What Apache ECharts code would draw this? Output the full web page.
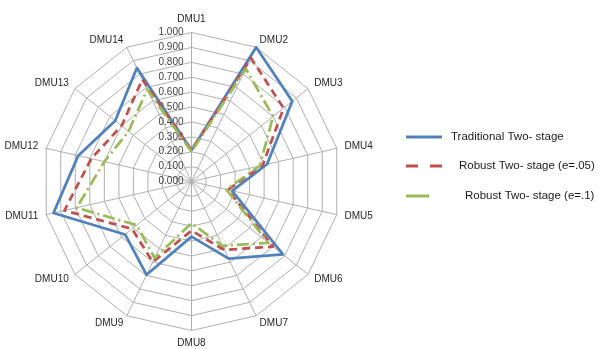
<!DOCTYPE html>
<html>
<head>
<meta charset="utf-8">
<script src="https://cdn.jsdelivr.net/npm/echarts@6/dist/echarts.min.js"></script>
<style>
  html, body { margin: 0; padding: 0; background: #fff; }
  #chart { width: 598px; height: 349px; }
</style>
</head>
<body>
<div id="chart"></div>
<script>
// Efficiency scores of 14 decision-making units under three models
const dmus = ['DMU1', 'DMU2', 'DMU3', 'DMU4', 'DMU5', 'DMU6', 'DMU7',
              'DMU8', 'DMU9', 'DMU10', 'DMU11', 'DMU12', 'DMU13', 'DMU14'];
const seriesNames = ['Traditional Two- stage', 'Robust Two- stage (e=.05)', 'Robust Two- stage (e=.1)'];
const traditional = [0.21, 1.00, 0.865, 0.52, 0.28, 0.785, 0.575, 0.37, 0.695, 0.57, 0.95, 0.78, 0.655, 0.845];
const robust05    = [0.21, 0.92, 0.79, 0.49, 0.25, 0.70, 0.51, 0.33, 0.60, 0.51, 0.875, 0.69, 0.60, 0.76];
const robust10    = [0.20, 0.84, 0.70, 0.47, 0.24, 0.66, 0.48, 0.28, 0.57, 0.47, 0.79, 0.60, 0.54, 0.685];
const axisMin = 0, axisMax = 1, axisSplits = 10;

const colors = ['#4F81BD', '#C0504D', '#9BBB59'];
const lineTypes = ['solid', [8, 5], [12, 4, 2, 4]];
const values = [traditional, robust05, robust10];

// radar axes run counter-clockwise; lay DMUs out clockwise from the top
const order = dmus.map((_, i) => (dmus.length - i) % dmus.length);

const font = 'Liberation Sans, Arial, sans-serif';
const chart = echarts.init(document.getElementById('chart'), null, { renderer: 'canvas' });

const indicator = order.map((k, i) => {
  const ind = { name: dmus[k], min: axisMin, max: axisMax };
  if (i === 0) {
    // only the vertical axis carries the scale labels
    ind.axisLabel = {
      show: true,
      margin: 8,
      fontSize: 10,
      color: '#404040',
      fontFamily: font,
      formatter: v => v.toFixed(3)
    };
  }
  return ind;
});

const legendIcons = [
  'path://M0,0H36V3H0Z',
  'path://M0,0H12V3H0ZM24,0H36V3H24Z',
  'path://M0,0H23V3H0Z'
];
const legendWidths = [36, 36, 23];
const legendTops = [126, 155, 185];
const legendPads = [4, 12, 31];

chart.setOption({
  animation: false,
  backgroundColor: '#ffffff',
  color: colors,
  legend: seriesNames.map((name, i) => ({
    data: [{ name: name, icon: legendIcons[i] }],
    left: 401,
    top: legendTops[i],
    itemWidth: legendWidths[i],
    itemHeight: 3,
    textStyle: {
      fontSize: 11.5,
      color: '#1a1a1a',
      fontFamily: font,
      padding: [0, 0, 0, legendPads[i]]
    }
  })),
  radar: {
    center: [191.5, 181.5],
    radius: 149,
    shape: 'polygon',
    splitNumber: axisSplits,
    startAngle: 90,
    nameGap: 8,
    axisName: {
      color: '#262626',
      fontSize: 10,
      fontFamily: font
    },
    axisLabel: { show: false },
    axisTick: { show: false },
    axisLine: { lineStyle: { color: '#b0b0b0', width: 1 } },
    splitLine: { lineStyle: { color: '#b0b0b0', width: 1 } },
    splitArea: { show: false },
    indicator: indicator
  },
  series: [{
    type: 'radar',
    symbol: 'none',
    data: values.map((v, i) => ({
      name: seriesNames[i],
      value: order.map(k => v[k]),
      lineStyle: { color: colors[i], width: 2.75, type: lineTypes[i] },
      itemStyle: { color: colors[i] }
    }))
  }]
});
</script>
</body>
</html>
